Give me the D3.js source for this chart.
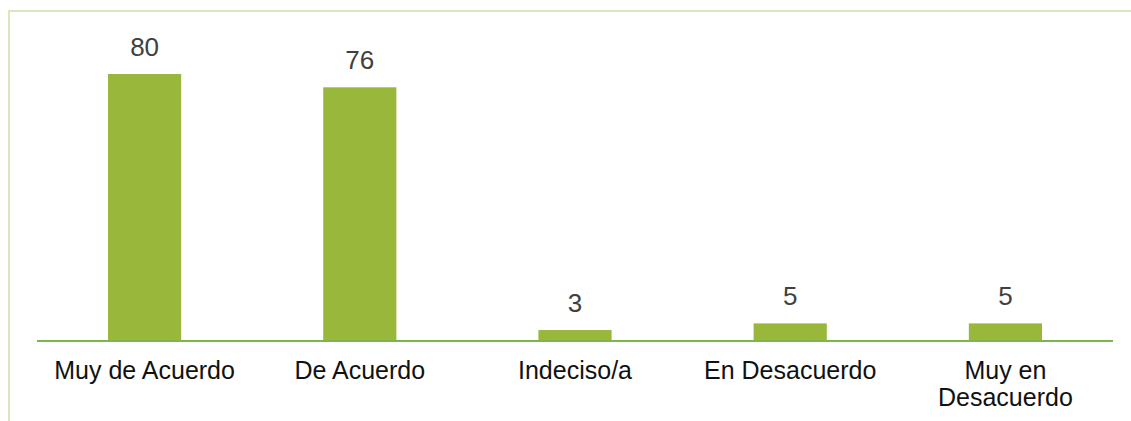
<!DOCTYPE html>
<html><head><meta charset="utf-8">
<script src="https://cdn.jsdelivr.net/npm/d3@7"></script>
<style>body{margin:0;background:#fff;}svg{display:block;}</style>
</head><body>
<svg id="c" width="1131" height="421"></svg>
<script>
const categories = ["Muy de Acuerdo", "De Acuerdo", "Indeciso/a", "En Desacuerdo", "Muy en\nDesacuerdo"];
const values = [80, 76, 3, 5, 5];

const svg = d3.select("#c");
const left = 37, right = 1113, baseY = 340;

// frame
svg.append("rect").attr("x", 9).attr("y", 11).attr("width", 1200).attr("height", 500)
  .attr("fill", "none").attr("stroke", "#d9e7bd").attr("stroke-width", 2);

const x = d3.scaleBand().domain(categories).range([left, right]).paddingInner(0.66).paddingOuter(0.33);
const y = d3.scaleLinear().domain([0, 80]).range([baseY, 74]);

svg.selectAll("rect.bar").data(values).enter().append("rect").attr("class", "bar")
  .attr("x", (d, i) => x(categories[i]))
  .attr("width", x.bandwidth())
  .attr("y", d => y(d))
  .attr("height", d => baseY - y(d))
  .attr("fill", "#98b73b");

svg.append("line").attr("x1", left).attr("x2", right).attr("y1", baseY + 1).attr("y2", baseY + 1)
  .attr("stroke", "#7cb64a").attr("stroke-width", 2);

svg.selectAll("text.val").data(values).enter().append("text").attr("class", "val")
  .attr("x", (d, i) => x(categories[i]) + x.bandwidth() / 2)
  .attr("y", d => y(d) - 18)
  .attr("text-anchor", "middle")
  .attr("font-family", "Liberation Sans, Arial, sans-serif")
  .attr("font-size", 26)
  .attr("fill", "#404040")
  .text(d => d);

categories.forEach((c, i) => {
  const t = svg.append("text")
    .attr("x", x(c) + x.bandwidth() / 2)
    .attr("y", 379)
    .attr("text-anchor", "middle")
    .attr("font-family", "Liberation Sans, Arial, sans-serif")
    .attr("font-size", 25)
    .attr("fill", "#111");
  c.split("\n").forEach((line, j) => {
    t.append("tspan").attr("x", x(c) + x.bandwidth() / 2).attr("dy", j === 0 ? 0 : 27).text(line);
  });
});
</script>
</body></html>
